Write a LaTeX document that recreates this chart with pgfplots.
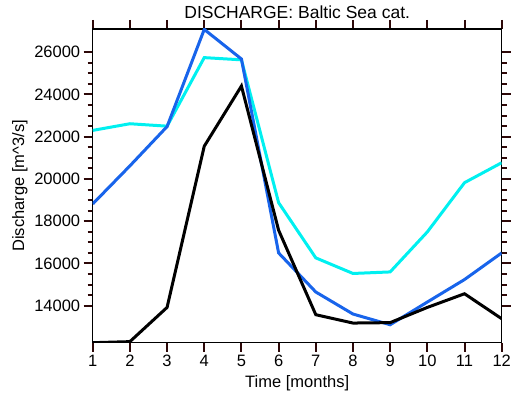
\documentclass[border=0pt]{standalone}
\usepackage{pgfplots}
\pgfplotsset{compat=1.18}
\usepackage{fontspec}
\setmainfont{Liberation Sans}
\definecolor{lblue}{RGB}{24,100,235}
\definecolor{lcyan}{RGB}{0,240,240}
\definecolor{tickc}{RGB}{45,8,8}
\begin{document}
\begin{tikzpicture}
\begin{axis}[
  at={(0,0)}, anchor=south west,
  scale only axis, width=409pt, height=313.7pt,
  xmin=1, xmax=12, ymin=12250, ymax=27100,
  xtick={1,2,3,4,5,6,7,8,9,10,11,12},
  xticklabels={1,2,3,4,5,6,7,8,9,10,11,12},
  ytick={14000,16000,18000,20000,22000,24000,26000},
  yticklabels={14000,16000,18000,20000,22000,24000,26000},
  minor y tick num=3,
  scaled y ticks=false,
  axis line style={line width=1.4pt},
  tick align=outside,
  major tick length=9pt, minor tick length=5pt,
  every tick/.style={tickc, line width=2pt},
  tick label style={font=\fontsize{16.5}{19}\selectfont},
  label style={font=\fontsize{16.5}{19}\selectfont},
  title={DISCHARGE: Baltic Sea cat.},
  title style={yshift=1pt, font=\fontsize{17.5}{20}\selectfont},
  xlabel={Time [months]},
  ylabel={Discharge [m\textasciicircum 3/s]},
  xlabel style={at={(axis description cs:0.5,-0.1307)}, anchor=center},
  ylabel style={at={(axis description cs:-0.1778,0.5)}, anchor=center},
]
\addplot[lcyan, line width=3pt] coordinates {
(1,22300) (2,22615) (3,22500) (4,25745) (5,25640) (6,18880)
(7,16265) (8,15527) (9,15600) (10,17494) (11,19825) (12,20770)};
\addplot[lblue, line width=3pt] coordinates {
(1,18818) (2,20620) (3,22480) (4,27080) (5,25680) (6,16500)
(7,14650) (8,13607) (9,13100) (10,14175) (11,15240) (12,16500)};
\addplot[black, line width=3pt] coordinates {
(1,12250) (2,12300) (3,13920) (4,21550) (5,24400) (6,17575)
(7,13575) (8,13180) (9,13200) (10,13920) (11,14567) (12,13385)};
\end{axis}
\pgfresetboundingbox
\path[use as bounding box] (-92.7pt,-53.3pt) rectangle (419.3pt,342.7pt);
\end{tikzpicture}
\end{document}
